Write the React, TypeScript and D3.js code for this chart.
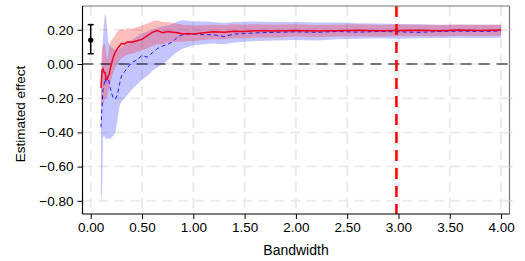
import React, { useEffect, useRef } from "react";
import * as d3 from "d3";

// bandwidth grid the estimates were read at
const bandwidth = [0.10, 0.11, 0.12, 0.13, 0.14, 0.15, 0.16, 0.17, 0.18, 0.19, 0.20, 0.22, 0.24, 0.26, 0.28, 0.30, 0.33, 0.36, 0.40, 0.45, 0.50, 0.55, 0.60, 0.65, 0.70, 0.75, 0.80, 0.85, 0.90, 0.95, 1.00, 1.10, 1.20, 1.30, 1.40, 1.50, 1.60, 1.80, 2.00, 2.20, 2.40, 2.60, 2.80, 3.00, 3.20, 3.40, 3.60, 3.80, 4.00];

const redEst = [-0.14, -0.04, -0.03, -0.05, -0.05, -0.09, -0.09, -0.07, -0.06, -0.03, -0.005, 0.04, 0.07, 0.09, 0.105, 0.12, 0.117, 0.13, 0.127, 0.136, 0.144, 0.165, 0.185, 0.195, 0.183, 0.19, 0.186, 0.182, 0.176, 0.178, 0.176, 0.182, 0.188, 0.186, 0.192, 0.19, 0.195, 0.193, 0.196, 0.193, 0.195, 0.197, 0.194, 0.196, 0.197, 0.195, 0.198, 0.196, 0.198];
const redLo = [-0.26, -0.2, -0.25, -0.22, -0.2, -0.2, -0.19, -0.16, -0.14, -0.12, -0.09, -0.05, -0.02, 0.0, 0.02, 0.035, 0.045, 0.055, 0.06, 0.07, 0.08, 0.09, 0.105, 0.115, 0.115, 0.125, 0.13, 0.13, 0.13, 0.135, 0.135, 0.14, 0.145, 0.145, 0.15, 0.15, 0.155, 0.155, 0.16, 0.158, 0.16, 0.162, 0.16, 0.162, 0.163, 0.162, 0.165, 0.163, 0.165];
const redHi = [-0.02, 0.10, 0.11, 0.12, 0.11, 0.05, 0.03, 0.05, 0.1, 0.12, 0.14, 0.15, 0.17, 0.19, 0.2, 0.205, 0.2, 0.21, 0.205, 0.215, 0.225, 0.235, 0.25, 0.255, 0.245, 0.245, 0.24, 0.235, 0.228, 0.228, 0.225, 0.228, 0.23, 0.228, 0.232, 0.23, 0.232, 0.23, 0.232, 0.228, 0.23, 0.232, 0.228, 0.23, 0.23, 0.228, 0.231, 0.229, 0.231];

const blueEst = [-0.37, -0.25, -0.15, -0.12, -0.085, -0.11, -0.09, -0.075, -0.11, -0.135, -0.165, -0.2, -0.205, -0.18, -0.12, -0.07, -0.045, -0.02, 0.008, 0.023, 0.05, 0.04, 0.065, 0.09, 0.105, 0.115, 0.13, 0.16, 0.172, 0.175, 0.175, 0.172, 0.17, 0.16, 0.175, 0.178, 0.182, 0.185, 0.188, 0.185, 0.19, 0.186, 0.19, 0.188, 0.185, 0.19, 0.192, 0.19, 0.193];
const blueLo = [-0.81, -0.75, -0.43, -0.42, -0.43, -0.44, -0.44, -0.43, -0.44, -0.44, -0.43, -0.42, -0.40, -0.33, -0.25, -0.22, -0.2, -0.18, -0.15, -0.12, -0.09, -0.07, -0.04, -0.02, 0.0, 0.02, 0.05, 0.075, 0.09, 0.1, 0.11, 0.115, 0.12, 0.115, 0.125, 0.13, 0.135, 0.138, 0.14, 0.138, 0.145, 0.148, 0.15, 0.148, 0.15, 0.152, 0.153, 0.152, 0.153];
const blueHi = [-0.2, 0.0, 0.15, 0.25, 0.29, 0.28, 0.2, 0.13, 0.12, 0.11, 0.1, 0.09, 0.08, 0.08, 0.09, 0.1, 0.11, 0.13, 0.14, 0.16, 0.18, 0.19, 0.2, 0.21, 0.22, 0.225, 0.235, 0.25, 0.255, 0.252, 0.25, 0.248, 0.245, 0.24, 0.245, 0.247, 0.248, 0.246, 0.245, 0.243, 0.242, 0.238, 0.236, 0.234, 0.232, 0.23, 0.23, 0.229, 0.228];

// point estimate at bandwidth 0 with its interval
const pointEst = { x: 0, est: 0.14, lo: 0.06, hi: 0.23 };
const chosenBandwidth = 2.98;

const xTicks = [0, 0.5, 1, 1.5, 2, 2.5, 3, 3.5, 4];
const yTicks = [0.2, 0, -0.2, -0.4, -0.6, -0.8];

function Chart() {
    const ref = useRef<SVGSVGElement>(null);

    useEffect(() => {
        const width = 525;
        const height = 261;
        const left = 82.5, right = 509.5, top = 6, bottom = 214;
        const font = "'Liberation Sans', Arial, sans-serif";

        const svg = d3.select(ref.current);
        svg.selectAll("*").remove();
        svg.attr("width", width).attr("height", height);

        const x = d3.scaleLinear().domain([-0.08, 4.082]).range([left, right]);
        const y = d3.scaleLinear().domain([-0.877, 0.339]).range([bottom, top]);

        // dashed grey grid
        const grid = svg.append("g").attr("stroke", "#ebebeb").attr("stroke-width", 2).attr("stroke-dasharray", "10,6");
        xTicks.forEach(t => grid.append("line").attr("x1", x(t)).attr("x2", x(t)).attr("y1", top).attr("y2", bottom));
        yTicks.forEach(t => grid.append("line").attr("x1", left).attr("x2", right).attr("y1", y(t)).attr("y2", y(t)));

        const idx = d3.range(bandwidth.length);
        const band = (lo: number[], hi: number[]) => d3.area<number>()
            .x(i => x(bandwidth[i]))
            .y0(i => y(lo[i]))
            .y1(i => y(hi[i]))(idx);
        const line = (v: number[]) => d3.line<number>()
            .x(i => x(bandwidth[i]))
            .y(i => y(v[i]))(idx);

        svg.append("path").attr("d", band(blueLo, blueHi)).attr("fill", "rgba(60,60,255,0.3)");
        svg.append("path").attr("d", band(redLo, redHi)).attr("fill", "rgba(255,40,40,0.3)");

        // zero reference line
        svg.append("line")
            .attr("x1", left).attr("x2", right + 3)
            .attr("y1", y(0)).attr("y2", y(0))
            .attr("stroke", "#000").attr("stroke-width", 1.2).attr("stroke-dasharray", "11,7");

        svg.append("path").attr("d", line(blueEst)).attr("fill", "none")
            .attr("stroke", "#1a1aff").attr("stroke-width", 1).attr("stroke-dasharray", "4,3");
        svg.append("path").attr("d", line(redEst)).attr("fill", "none")
            .attr("stroke", "#ee0022").attr("stroke-width", 1.5);

        // chosen bandwidth
        svg.append("line")
            .attr("x1", x(chosenBandwidth)).attr("x2", x(chosenBandwidth))
            .attr("y1", top).attr("y2", bottom)
            .attr("stroke", "#ff0000").attr("stroke-width", 2.5).attr("stroke-dasharray", "11,7");

        // error bar at 0
        const eb = svg.append("g").attr("stroke", "#000").attr("stroke-width", 1.5);
        eb.append("line").attr("x1", x(pointEst.x)).attr("x2", x(pointEst.x)).attr("y1", y(pointEst.lo)).attr("y2", y(pointEst.hi));
        [pointEst.lo, pointEst.hi].forEach(v =>
            eb.append("line").attr("x1", x(pointEst.x) - 3).attr("x2", x(pointEst.x) + 3).attr("y1", y(v)).attr("y2", y(v)));
        svg.append("circle").attr("cx", x(pointEst.x)).attr("cy", y(pointEst.est)).attr("r", 2.6).attr("fill", "#000");

        // frame: grey top/right, black axes
        svg.append("path")
            .attr("d", `M${left},${top}H${right}V${bottom}`)
            .attr("fill", "none").attr("stroke", "#777").attr("stroke-width", 1.2);
        yTicks.forEach(t => svg.append("line").attr("x1", right).attr("x2", right + 3)
            .attr("y1", y(t)).attr("y2", y(t)).attr("stroke", "#ddd").attr("stroke-width", 1.5));

        const xAxis = svg.append("g").attr("transform", `translate(0,${bottom})`)
            .call(d3.axisBottom(x).tickValues(xTicks).tickFormat(d3.format(".2f")).tickSizeOuter(0).tickSize(5).tickPadding(3));
        const yAxis = svg.append("g").attr("transform", `translate(${left},0)`)
            .call(d3.axisLeft(y).tickValues(yTicks).tickFormat(d3.format(".2f")).tickSizeOuter(0).tickSize(5).tickPadding(4));
        [xAxis, yAxis].forEach(a => {
            a.select(".domain").attr("stroke", "#000").attr("stroke-width", 1.2);
            a.selectAll(".tick line").attr("stroke", "#000").attr("stroke-width", 1);
            a.selectAll("text").attr("font-family", font).attr("font-size", 13.5).attr("fill", "#000");
        });
        xAxis.select(".domain").attr("d", `M${left},0H${right}`);
        yAxis.select(".domain").attr("d", `M0,${top}V${bottom}`);

        svg.append("text")
            .attr("x", (left + right) / 2)
            .attr("y", 255)
            .attr("text-anchor", "middle")
            .attr("font-family", font)
            .attr("font-size", 14)
            .text("Bandwidth");

        svg.append("text")
            .attr("transform", `translate(25,114) rotate(-90)`)
            .attr("text-anchor", "middle")
            .attr("font-family", font)
            .attr("font-size", 13.5)
            .text("Estimated effect");
    }, []);

    return <svg ref={ref} style={{ display: "block" }}></svg>;
}

export default function App() {
    return (
        <div style={{ position: "fixed", left: 0, top: 0, background: "#fff" }}>
            <Chart />
        </div>
    );
}
